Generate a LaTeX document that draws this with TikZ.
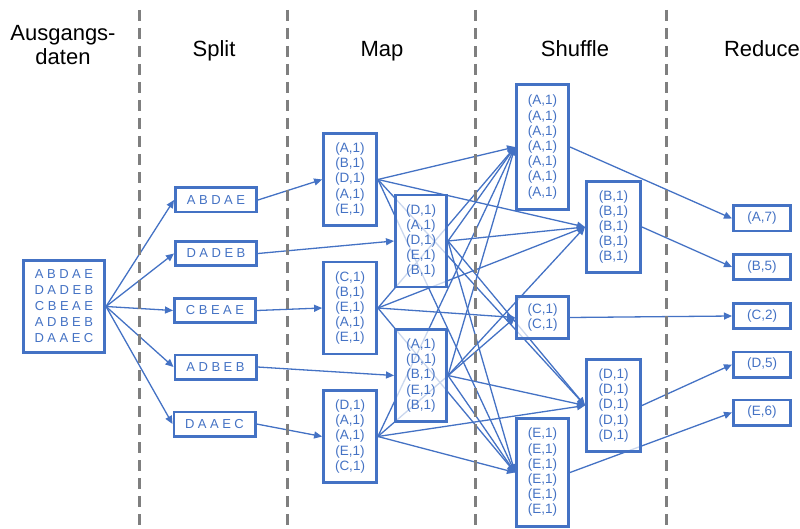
\documentclass[tikz,border=0pt]{standalone}
\usepackage{fontspec}
\setmainfont{Liberation Sans}
\usetikzlibrary{arrows.meta}
\definecolor{myblue}{HTML}{4472C4}
\definecolor{dashgray}{HTML}{7F7F7F}
\pgfdeclarelayer{bg}
\pgfsetlayers{bg,main}
\newcommand\lsp{\hspace{3.5pt}}
\begin{document}
\begin{tikzpicture}[x=1pt,y=-1pt,
  box/.style={draw=myblue, line width=2.8pt, fill=white, fill opacity=0.72, text opacity=1, text=myblue, inner sep=0pt, align=center, font=\fontsize{13.5}{15.2}\selectfont},
  conn/.style={draw=myblue, line width=1.3pt, -{Triangle[length=8pt,width=7pt]}},
  sep/.style={draw=dashgray, line width=3pt, dash pattern=on 11pt off 7pt},
  head/.style={font=\fontsize{22}{24}\selectfont, text=black, inner sep=0pt, align=center}]
\useasboundingbox (0,0) rectangle (800,529);

% headers
\node[head] (h0) at (63,45) {Ausgangs-\\daten};
\node[head, anchor=base] (h1) at (214,57) {Split};
\node[head, anchor=base] (h2) at (382,57) {Map};
\node[head, anchor=base] (h3) at (575,57) {Shuffle};
\node[head, anchor=base] (h4) at (762,57) {Reduce};

% input
\node[box, minimum width=81.2pt, minimum height=92.2pt, font=\fontsize{13}{16}\selectfont] (in) at (64,306.5)
  {A\lsp B\lsp D\lsp A\lsp E\\D\lsp A\lsp D\lsp E\lsp B\\C\lsp B\lsp E\lsp A\lsp E\\A\lsp D\lsp B\lsp E\lsp B\\D\lsp A\lsp A\lsp E\lsp C};

% split
\tikzset{sbox/.style={box, minimum width=81.2pt, minimum height=24.2pt, font=\fontsize{13}{15}\selectfont}}
\node[sbox] (s1) at (216,200) {A\lsp B\lsp D\lsp A\lsp E};
\node[sbox] (s2) at (216,253.5) {D\lsp A\lsp D\lsp E\lsp B};
\node[sbox] (s3) at (215,310.5) {C\lsp B\lsp E\lsp A\lsp E};
\node[sbox] (s4) at (215.5,367) {A\lsp D\lsp B\lsp E\lsp B};
\node[sbox] (s5) at (214.5,424) {D\lsp A\lsp A\lsp E\lsp C};

% map
\tikzset{mbox/.style={box, minimum width=53pt, minimum height=92pt}}
\node[mbox] (m1) at (350,179.5) {(A,1)\\(B,1)\\(D,1)\\(A,1)\\(E,1)};
\node[mbox, minimum width=51.2pt] (m2) at (421,241) {(D,1)\\(A,1)\\(D,1)\\(E,1)\\(B,1)};
\node[mbox] (m3) at (350,308) {(C,1)\\(B,1)\\(E,1)\\(A,1)\\(E,1)};
\node[mbox, minimum width=51.2pt] (m4) at (421,375.5) {(A,1)\\(D,1)\\(B,1)\\(E,1)\\(B,1)};
\node[mbox] (m5) at (350,436.5) {(D,1)\\(A,1)\\(A,1)\\(E,1)\\(C,1)};

% shuffle
\node[box, minimum width=52.2pt, minimum height=125.2pt] (sA) at (542.5,147) {(A,1)\\(A,1)\\(A,1)\\(A,1)\\(A,1)\\(A,1)\\(A,1)};
\node[box, minimum width=54.2pt, minimum height=91.2pt] (sB) at (613.5,227) {(B,1)\\(B,1)\\(B,1)\\(B,1)\\(B,1)};
\node[box, minimum width=52.2pt, minimum height=42.2pt] (sC) at (542.5,317.5) {(C,1)\\(C,1)};
\node[box, minimum width=54.2pt, minimum height=92.2pt] (sD) at (613.5,405.5) {(D,1)\\(D,1)\\(D,1)\\(D,1)\\(D,1)};
\node[box, minimum width=52.2pt, minimum height=108.2pt] (sE) at (542.5,472.5) {(E,1)\\(E,1)\\(E,1)\\(E,1)\\(E,1)\\(E,1)};

% reduce
\tikzset{rbox/.style={box, minimum width=57.2pt, minimum height=25.2pt}}
\node[rbox] (rA) at (762,218.5) {(A,7)};
\node[rbox] (rB) at (762,267) {(B,5)};
\node[rbox] (rC) at (762,316) {(C,2)};
\node[rbox] (rD) at (762,364.5) {(D,5)};
\node[rbox] (rE) at (762,412.5) {(E,6)};

% separators
\foreach \xx in {139,287,475,666}
  \draw[sep] (\xx,10) -- (\xx,529);

\begin{pgfonlayer}{bg}
  \foreach \t in {s1,s2,s3,s4,s5} \draw[conn] (in.east) -- (\t.west);
  \draw[conn] (s1.east) -- (m1.west);
  \draw[conn] (s2.east) -- (m2.west);
  \draw[conn] (s3.east) -- (m3.west);
  \draw[conn] (s4.east) -- (m4.west);
  \draw[conn] (s5.east) -- (m5.west);
  \foreach \t in {sA,sB,sD,sE} \draw[conn] (m1.east) -- (\t.west);
  \foreach \t in {sD,sA,sE,sB} \draw[conn] (m2.east) -- (\t.west);
  \foreach \t in {sC,sB,sE,sA} \draw[conn] (m3.east) -- (\t.west);
  \foreach \t in {sA,sD,sB,sE} \draw[conn] (m4.east) -- (\t.west);
  \foreach \t in {sD,sA,sE,sC} \draw[conn] (m5.east) -- (\t.west);
  \draw[conn] (sA.east) -- (rA.west);
  \draw[conn] (sB.east) -- (rB.west);
  \draw[conn] (sC.east) -- (rC.west);
  \draw[conn] (sD.east) -- (rD.west);
  \draw[conn] (sE.east) -- (rE.west);
\end{pgfonlayer}
\end{tikzpicture}
\end{document}
